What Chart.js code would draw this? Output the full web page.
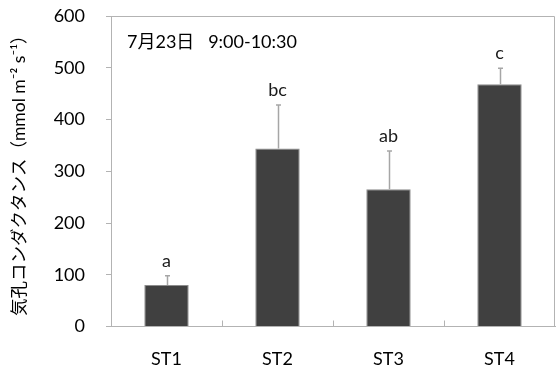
<!DOCTYPE html>
<html>
<head>
<meta charset="utf-8">
<script src="https://cdn.jsdelivr.net/npm/chart.js@4"></script>
<style>
  html, body { margin: 0; padding: 0; background: #fff; }
  #wrap { width: 556px; height: 365px; }
</style>
</head>
<body>
<div id="wrap"><canvas id="myChart" width="556" height="365"></canvas></div>
<script>
const categories = ["ST1", "ST2", "ST3", "ST4"];
const conductance = [80, 344, 265, 468];
const errorUp = [18, 84, 74, 31];
const sigLetters = ["a", "bc", "ab", "c"];
const yMin = 0;
const yMax = 600;
const yStep = 100;

const FONT = "Lato, 'Noto Sans CJK JP', sans-serif";
const AXIS = "#b3b3b3";

// error bars, letters, frame and inner category ticks
const extras = {
  id: "extras",
  afterDatasetsDraw(chart) {
    const c = chart.ctx;
    const y = chart.scales.y;
    const x = chart.scales.x;
    const area = chart.chartArea;
    const meta = chart.getDatasetMeta(0);
    c.save();
    c.strokeStyle = AXIS;
    c.lineWidth = 1;
    c.beginPath();
    c.moveTo(area.left, area.top + 0.5);
    c.lineTo(area.right - 0.5, area.top + 0.5);
    c.lineTo(area.right - 0.5, area.bottom);
    for (let i = 1; i < categories.length; i++) {
      const px = Math.round((x.getPixelForTick(i - 1) + x.getPixelForTick(i)) / 2) + 0.5;
      c.moveTo(px, area.bottom);
      c.lineTo(px, area.bottom - 6);
    }
    c.stroke();

    meta.data.forEach((bar, i) => {
      const top = y.getPixelForValue(conductance[i] + errorUp[i]);
      const bx = Math.round(bar.x) + 0.5;
      c.strokeStyle = "#a6a6a6";
      c.lineWidth = 1.5;
      c.beginPath();
      c.moveTo(bx, bar.y);
      c.lineTo(bx, top);
      c.moveTo(bx - 2.5, top);
      c.lineTo(bx + 2.5, top);
      c.stroke();
      c.fillStyle = "#1a1a1a";
      c.font = "18px " + FONT;
      c.textAlign = "center";
      c.textBaseline = "alphabetic";
      c.fillText(sigLetters[i], bar.x, top - 9);
    });

    c.fillStyle = "#000";
    c.font = "18px " + FONT;
    c.textAlign = "left";
    c.textBaseline = "middle";
    c.fillText("7月23日   9:00-10:30", area.left + 16, area.top + 26);
    c.restore();
  }
};

new Chart(document.getElementById("myChart"), {
  type: "bar",
  data: {
    labels: categories,
    datasets: [
      {
        data: conductance,
        backgroundColor: "#404040",
        borderColor: "#8c8c8c",
        borderWidth: 1,
        barPercentage: 0.4,
        categoryPercentage: 1.0,
      },
    ],
  },
  options: {
    responsive: false,
    animation: false,
    layout: { padding: { left: 0, right: 1, top: 16, bottom: 0 } },
    plugins: { legend: { display: false }, tooltip: { enabled: false } },
    scales: {
      x: {
        grid: { display: false },
        border: { color: AXIS, width: 1 },
        ticks: { color: "#000", font: { family: FONT, size: 18 }, padding: 14 },
        afterFit(s) { s.height = 38.5; s.paddingLeft = 0; s.paddingRight = 0; },
      },
      y: {
        min: yMin,
        max: yMax,
        grid: { drawOnChartArea: false, drawTicks: true, tickLength: 5, color: AXIS },
        border: { color: AXIS, width: 1 },
        ticks: { stepSize: yStep, color: "#000", font: { family: FONT, size: 18 }, padding: 21 },
        title: {
          display: true,
          text: "気孔コンダクタンス（mmol m⁻² s⁻¹）",
          color: "#000",
          font: { family: FONT, size: 17.5 },
          padding: { top: 9, bottom: 0 },
        },
        afterFit(s) { s.width = 111; s.paddingTop = 0; s.paddingBottom = 0; },
      },
    },
  },
  plugins: [extras],
});
</script>
</body>
</html>
